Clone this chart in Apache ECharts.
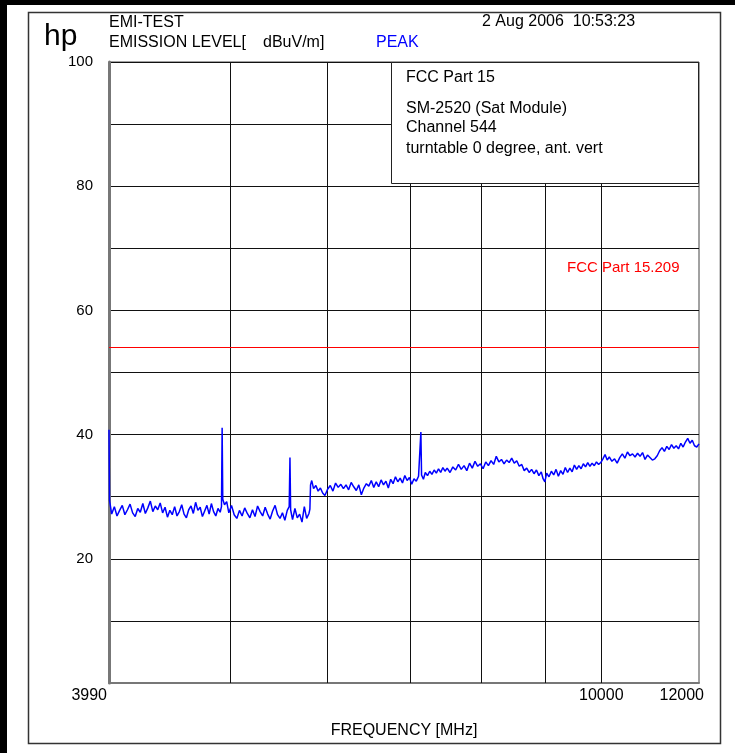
<!DOCTYPE html>
<html>
<head>
<meta charset="utf-8">
<title>EMI-TEST</title>
<script src="https://cdn.jsdelivr.net/npm/echarts@6/dist/echarts.min.js"></script>
<style>
  body { margin: 0; background: #fff; }
  #chart { width: 735px; height: 753px; }
</style>
</head>
<body>
<div id="chart"></div>
<script>
// sweep points, MHz
var freqs = [
  3990, 3994, 4010, 4030, 4050, 4070, 4090, 4110, 4130, 4150,
  4170, 4190, 4210, 4230, 4250, 4270, 4290, 4310, 4330, 4350,
  4370, 4390, 4410, 4430, 4450, 4470, 4490, 4510, 4530, 4550,
  4570, 4590, 4610, 4630, 4650, 4670, 4690, 4710, 4730, 4750,
  4770, 4790, 4810, 4830, 4850, 4870, 4890, 4910, 4922, 4928,
  4934, 4950, 4970, 4990, 5015, 5040, 5065, 5090, 5115, 5140,
  5165, 5190, 5215, 5240, 5265, 5290, 5315, 5340, 5365, 5390,
  5415, 5440, 5465, 5490, 5515, 5540, 5565, 5585, 5593, 5600,
  5620, 5645, 5670, 5695, 5720, 5745, 5770, 5795, 5805, 5812,
  5825, 5845, 5870, 5895, 5920, 5945, 5970, 6000, 6030, 6060,
  6090, 6120, 6150, 6180, 6210, 6240, 6270, 6300, 6330, 6360,
  6390, 6420, 6450, 6480, 6510, 6540, 6570, 6600, 6630, 6660,
  6690, 6720, 6750, 6780, 6810, 6840, 6870, 6900, 6930, 6960,
  6990, 7020, 7050, 7080, 7110, 7130, 7141, 7150, 7175, 7200,
  7230, 7260, 7290, 7320, 7350, 7380, 7410, 7440, 7470, 7500,
  7540, 7580, 7620, 7660, 7700, 7740, 7780, 7820, 7860, 7900,
  7940, 7980, 8020, 8060, 8100, 8140, 8180, 8220, 8260, 8300,
  8340, 8380, 8420, 8460, 8500, 8540, 8580, 8620, 8660, 8700,
  8740, 8780, 8820, 8860, 8900, 8940, 8970, 9000, 9030, 9070,
  9110, 9150, 9190, 9230, 9270, 9310, 9350, 9390, 9430, 9470,
  9510, 9550, 9590, 9630, 9670, 9710, 9750, 9790, 9830, 9870,
  9910, 9950, 9990, 10030, 10070, 10110, 10150, 10200, 10250, 10300,
  10350, 10400, 10450, 10500, 10550, 10600, 10650, 10700, 10750, 10800,
  10850, 10900, 10950, 11000, 11050, 11100, 11150, 11200, 11250, 11300,
  11350, 11400, 11450, 11500, 11550, 11600, 11650, 11700, 11750, 11800,
  11850, 11900, 11950, 12000
]
// peak level, dBuV/m
var levels = [
  40.8, 29.4, 27.2, 28.4, 26.9, 27.8, 28.6, 27.1, 27.9, 28.8,
  27.4, 26.8, 28.1, 27.5, 28.9, 27.3, 28.2, 29.3, 27.6, 28.5,
  27.9, 29.0, 27.4, 28.3, 26.7, 27.8, 27.1, 28.4, 26.9, 27.6,
  28.7, 27.2, 26.6, 27.9, 28.5, 27.3, 29.1, 27.8, 28.3, 26.8,
  27.7, 28.6, 27.2, 28.9, 27.6, 26.9, 28.1, 27.5, 28.4, 41.1,
  29.6, 28.7, 29.2, 27.4, 28.6, 27.1, 26.5, 27.8, 26.9, 28.2,
  27.3, 26.6, 27.9, 26.8, 28.5, 27.6, 26.9, 28.3, 27.2, 26.4,
  27.7, 28.6, 27.1, 26.5, 27.4, 26.2, 27.8, 28.4, 36.3, 27.9,
  26.3, 28.1, 26.6, 27.2, 25.9, 28.4, 26.5, 27.3, 28.0, 31.9,
  32.6, 31.3, 31.8, 30.9, 31.4, 30.6, 30.2, 31.2, 31.8, 30.9,
  32.2, 31.5, 32.0, 31.3, 31.9, 31.1, 32.3, 31.6, 31.0, 31.9,
  30.3, 31.4, 32.1, 31.7, 32.6, 31.5, 32.4, 31.6, 32.7, 31.9,
  32.5, 31.4, 32.8, 32.1, 33.2, 32.4, 33.0, 32.2, 33.4, 32.6,
  33.1, 32.0, 32.9, 32.5, 33.3, 33.0, 40.4, 33.5, 32.8, 33.9,
  33.4, 34.1, 33.6, 34.3, 33.8, 34.5, 33.9, 34.7, 34.1, 34.6,
  33.9, 34.8, 34.3, 35.2, 34.4, 35.0, 34.2, 35.4, 34.6, 35.7,
  34.9, 35.3, 34.5, 35.6, 35.0, 35.8, 35.2, 36.5, 35.6, 36.0,
  35.3, 35.9, 35.5, 36.2, 35.4, 35.8, 34.9, 35.2, 34.2, 34.6,
  33.9, 34.4, 33.7, 34.3, 33.4, 34.0, 32.9, 32.4, 33.8, 33.2,
  34.1, 33.5, 34.4, 33.3, 34.2, 33.6, 34.7, 33.9, 34.6, 34.0,
  35.1, 34.4, 35.0, 34.5, 35.3, 34.8, 35.5, 34.9, 35.4, 35.0,
  35.6, 35.2, 35.5, 36.1, 36.8, 35.9, 36.4, 35.7, 36.1, 35.4,
  36.3, 36.9, 36.2, 37.2, 36.6, 36.9, 36.4, 37.0, 36.5, 37.1,
  36.0, 36.7, 36.3, 35.9, 36.1, 36.6, 37.4, 37.9, 37.3, 38.1,
  37.6, 38.4, 37.8, 38.2, 37.7, 38.6, 38.0, 38.8, 39.4, 38.6,
  39.1, 38.2, 38.0, 38.5
]
var gridFreqs = [5000, 6000, 7000, 8000, 9000, 10000]
var freqLabels = [3990, 10000, 12000]
var yLabels = [20, 40, 60, 80, 100]
var limitLevel = 54 // FCC Part 15.209

var FONT = '"Liberation Sans", Arial, sans-serif'

var chart = echarts.init(document.getElementById('chart'))

var traceData = freqs.map(function (f, i) {
  return [f, levels[i]]
})

function txt (text, x, y, size, color, align) {
  return {
    type: 'text',
    z: 110,
    style: {
      text: text,
      x: x,
      y: y,
      fill: color || '#000',
      font: (size || 16) + 'px ' + FONT,
      align: align || 'left',
      verticalAlign: 'middle'
    }
  }
}

var option = {
  animation: false,
  backgroundColor: '#fff',
  grid: {
    left: 109,
    top: 62,
    width: 590,
    height: 621,
    show: true,
    borderColor: '#444',
    borderWidth: 1
  },
  xAxis: {
    type: 'log',
    logBase: 10,
    min: 3990,
    max: 12000,
    axisLabel: { show: false },
    axisTick: { show: false },
    splitLine: { show: false },
    axisLine: { show: true, lineStyle: { color: '#777', width: 2 } }
  },
  yAxis: {
    type: 'value',
    min: 0,
    max: 100,
    interval: 10,
    axisTick: { show: false },
    axisLine: { show: true, lineStyle: { color: '#777', width: 3 } },
    splitLine: { show: true, lineStyle: { color: '#111', width: 1 } },
    axisLabel: {
      margin: 16,
      color: '#000',
      fontSize: 15,
      fontFamily: FONT,
      formatter: function (v) {
        return yLabels.indexOf(v) >= 0 ? String(v) : ''
      }
    }
  },
  series: [
    {
      type: 'line',
      data: traceData,
      symbol: 'none',
      z: 5,
      lineStyle: { color: '#0000ff', width: 1.5 },
      markLine: {
        silent: true,
        symbol: 'none',
        label: { show: false },
        lineStyle: { color: '#111', width: 1, type: 'solid' },
        data: gridFreqs.map(function (f) { return { xAxis: f } })
      }
    },
    {
      type: 'line',
      data: [],
      z: 4,
      markLine: {
        silent: true,
        symbol: 'none',
        label: { show: false },
        lineStyle: { color: '#ff0000', width: 1, type: 'solid' },
        data: [{ yAxis: limitLevel }]
      }
    }
  ]
}

chart.setOption(option)

// x tick labels placed through the log axis
var xLab = freqLabels.map(function (f, i) {
  var px = chart.convertToPixel({ xAxisIndex: 0 }, f)
  if (i === 0) return txt(String(f), px - 2, 696, 16, '#000', 'right')
  if (i === freqLabels.length - 1) return txt(String(f), px + 5, 696, 16, '#000', 'right')
  return txt(String(f), px, 696, 16, '#000', 'center')
})

chart.setOption({
  graphic: [
    { type: 'rect', z: 120, shape: { x: 0, y: 0, width: 735, height: 5 }, style: { fill: '#000' } },
    { type: 'rect', z: 120, shape: { x: 0, y: 0, width: 7, height: 753 }, style: { fill: '#000' } },
    { type: 'rect', z: 90, shape: { x: 28.5, y: 12.5, width: 692, height: 731 }, style: { fill: 'none', stroke: '#333', lineWidth: 1.5 } },
    { type: 'rect', z: 100, shape: { x: 391.5, y: 62.5, width: 307, height: 121 }, style: { fill: '#fff', stroke: '#222', lineWidth: 1 } },
    { type: 'text', z: 110, style: { text: 'hp', x: 44, y: 37, fill: '#000', font: '30px ' + FONT, verticalAlign: 'middle' } },
    txt('EMI-TEST', 109, 23, 16),
    txt('EMISSION LEVEL[', 109, 43, 16),
    txt('dBuV/m]', 263, 43, 16),
    txt('PEAK', 376, 43, 16, '#0000ff'),
    txt('2 Aug 2006  10:53:23', 482, 22, 16),
    txt('FCC Part 15', 406, 78, 16),
    txt('SM-2520 (Sat Module)', 406, 109, 16),
    txt('Channel 544', 406, 128, 16),
    txt('turntable 0 degree, ant. vert', 406, 149, 16),
    txt('FCC Part 15.209', 567, 268, 15, '#ff0000'),
    txt('FREQUENCY [MHz]', 404, 731, 16, '#000', 'center')
  ].concat(xLab)
})

window.addEventListener('resize', function () {
  chart.resize()
})
</script>
</body>
</html>
